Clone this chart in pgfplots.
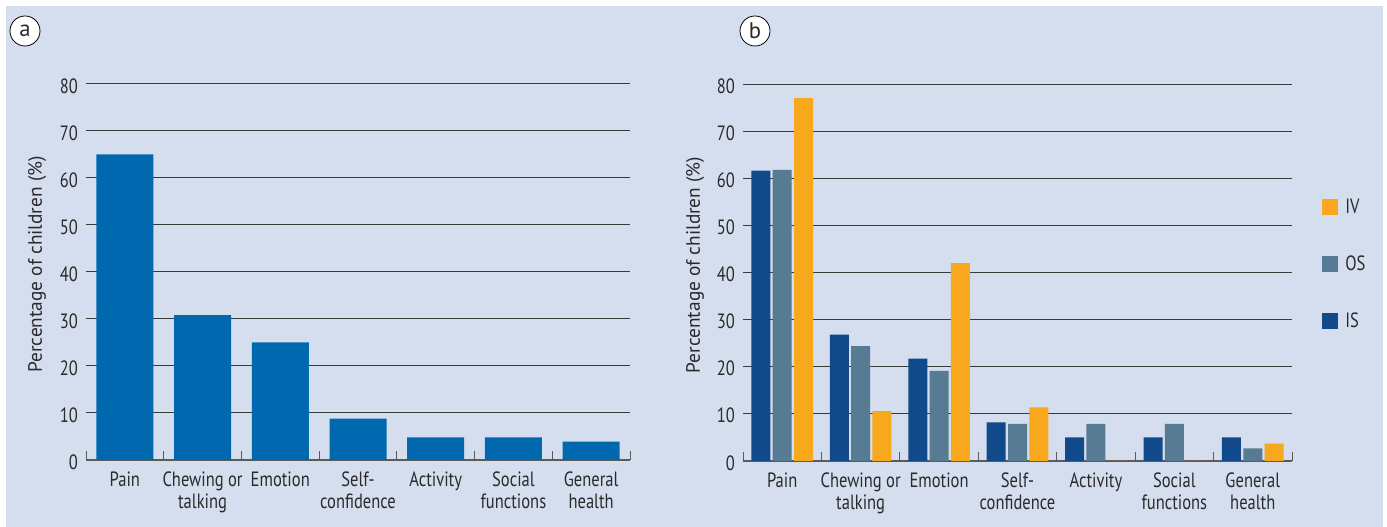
\documentclass[border=0pt]{standalone}
\usepackage{pgfplots}
\pgfplotsset{compat=1.18}
\usepackage{fontspec}
\setmainfont{PT Sans}
\newfontfamily\condfont{PT Sans}[FakeStretch=0.8]

\definecolor{bgc}{HTML}{D5DEEE}
\definecolor{barA}{HTML}{0068AE}
\definecolor{isc}{HTML}{114A8A}
\definecolor{osc}{HTML}{577B92}
\definecolor{ivc}{HTML}{F8A81C}
\definecolor{gridc}{HTML}{3A3A3A}
\definecolor{axc}{HTML}{5A5A5A}
\definecolor{txtc}{HTML}{2A2A2A}

\pgfplotsset{
  panel/.style={
    scale only axis,
    xmin=-0.5, xmax=6.5, ymin=0, ymax=80,
    ytick={0,10,...,80},
    ymajorgrids,
    grid style={line width=0.75pt, color=gridc},
    axis x line*=bottom, axis y line*=left,
    y axis line style={draw=none},
    x axis line style={line width=1.1pt, color=axc, -},
    xtick={0,...,6},
    xticklabels={Pain,{Chewing or\\talking},Emotion,{Self-\\confidence},Activity,{Social\\functions},{General\\health}},
    minor xtick={-0.5,0.5,...,6.5},
    tick align=inside,
    major tick length=0pt,
    minor tick length=7pt,
    minor x tick style={line width=0.75pt, color=axc},
    /pgf/number format/assume math mode=true,
    typeset ticklabels with strut,
    every tick label/.append style={text=txtc, font=\condfont\fontsize{15.5}{16.5}\selectfont},
    xticklabel style={align=center, yshift=-5pt},
    yticklabel style={xshift=-2.5pt, yshift=-3.5pt},
    ylabel={Percentage of children (\%)},
    ylabel style={text=txtc, font=\fontsize{14.5}{16}\selectfont, anchor=center},
  },
  sq legend/.style={legend image code/.code={\fill[##1] (0pt,-1pt) rectangle (12pt,11pt);}},
}

\begin{document}
\begin{tikzpicture}[x=0.75pt,y=0.75pt]
\fill[white] (0,0) rectangle (1387,527);
\fill[bgc] (6,0) rectangle (1383,521);

% Panel a: all children
\begin{axis}[panel,
  at={(64.5pt,50.25pt)}, anchor=south west,
  width=408pt, height=282pt,
  ylabel style={at={(axis description cs:-0.09,0.52)}},
]
\addplot[ybar, bar width=42.75pt, fill=barA, draw=none]
  coordinates {(0,65) (1,30.8) (2,25) (3,8.8) (4,4.8) (5,4.8) (6,3.9)};
\end{axis}

% Panel b: by group
\begin{axis}[panel,
  at={(557.25pt,49.5pt)}, anchor=south west,
  width=411.75pt, height=282.75pt,
  ylabel style={at={(axis description cs:-0.0874,0.52)}},
  reverse legend,
  legend style={at={(1.0546,0.695)}, anchor=north west, draw=none, fill=none,
    inner sep=0pt, row sep=30pt, column sep=5.25pt, text=txtc,
    nodes={inner sep=0pt},
    font=\condfont\fontsize{15.5}{16.5}\selectfont, cells={anchor=base west}},
]
\addplot[ybar, bar width=14.25pt, bar shift=-16pt, fill=isc, draw=none, sq legend]
  coordinates {(0,61.6) (1,26.8) (2,21.7) (3,8.2) (4,5.0) (5,5.0) (6,5.0)};
\addplot[ybar, bar width=14.25pt, bar shift=0pt, fill=osc, draw=none, sq legend]
  coordinates {(0,61.8) (1,24.4) (2,19.1) (3,7.9) (4,7.9) (5,7.9) (6,2.7)};
\addplot[ybar, bar width=14.25pt, bar shift=16pt, fill=ivc, draw=none, sq legend]
  coordinates {(0,77.0) (1,10.6) (2,42.0) (3,11.4) (4,0) (5,0) (6,3.7)};
\legend{IS,OS,IV}
\end{axis}

\node[circle, draw=black, fill=white, line width=0.6pt, minimum size=22.5pt, inner sep=0pt,
  font=\fontsize{17}{18}\selectfont, text=txtc] at (25,496) {a};
\node[circle, draw=black, fill=white, line width=0.6pt, minimum size=22.5pt, inner sep=0pt,
  font=\fontsize{17}{18}\selectfont, text=txtc] at (755,496) {b};
\end{tikzpicture}
\end{document}
